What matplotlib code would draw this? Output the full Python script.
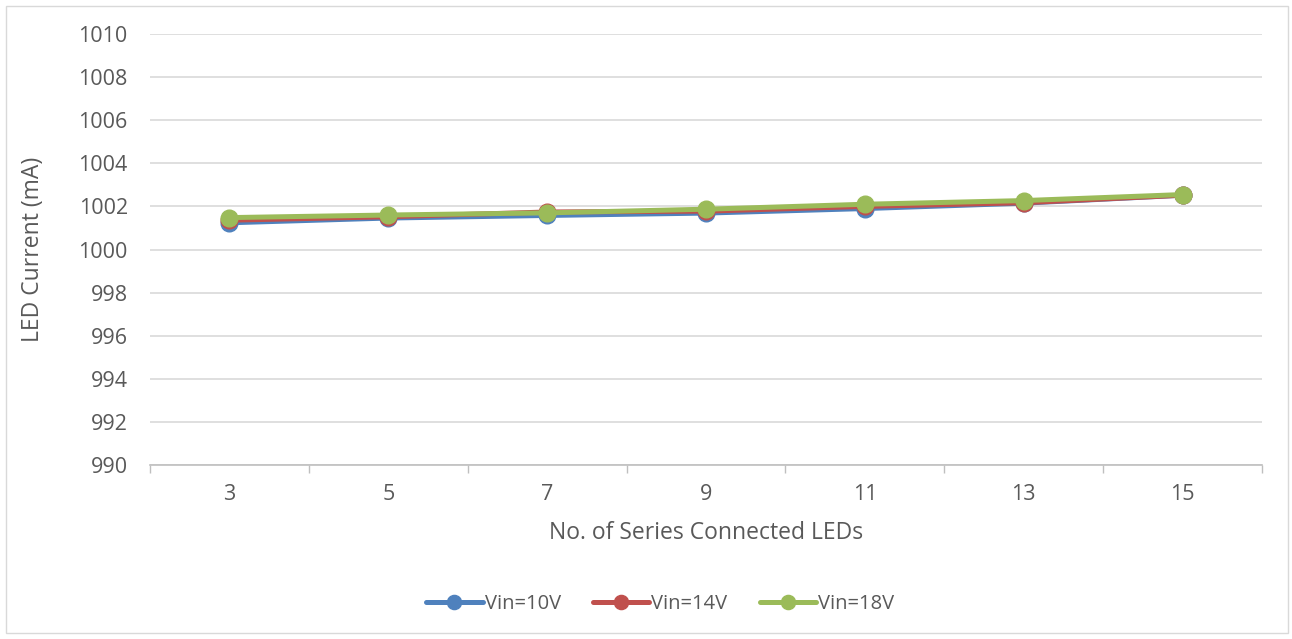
import matplotlib
matplotlib.use("Agg")
import matplotlib.pyplot as plt
from matplotlib.patches import Rectangle

# data
leds = ["3", "5", "7", "9", "11", "13", "15"]
vin10 = [1001.24, 1001.46, 1001.58, 1001.69, 1001.90, 1002.15, 1002.52]
vin14 = [1001.36, 1001.52, 1001.74, 1001.78, 1002.00, 1002.17, 1002.52]
vin18 = [1001.48, 1001.60, 1001.70, 1001.87, 1002.10, 1002.27, 1002.55]

plt.rcParams['font.family'] = ['Open Sans', 'DejaVu Sans']
txt = '#595959'

fig = plt.figure(figsize=(12.92, 6.39), dpi=100)
ax = fig.add_axes([150 / 1292, 1 - 465 / 639, 1112 / 1292, 431 / 639])

x = range(len(leds))
for vals, col, lab in [(vin10, '#4F81BD', 'Vin=10V'),
                       (vin14, '#C0504D', 'Vin=14V'),
                       (vin18, '#9BBB59', 'Vin=18V')]:
    ax.plot(x, vals, color=col, lw=3.6, marker='o', ms=12, label=lab,
            solid_capstyle='round')

ax.set_xlim(-0.5, len(leds) - 0.5)
ax.set_ylim(990, 1010)
ax.set_yticks(range(990, 1011, 2))
ax.set_xticks(list(x))
ax.set_xticklabels(leds)
ax.set_xticks([i - 0.5 for i in range(len(leds) + 1)], minor=True)
ax.tick_params(axis='x', which='major', length=0, pad=14, labelsize=15.5, labelcolor=txt)
ax.tick_params(axis='x', which='minor', length=6, color='#BFBFBF', width=1)
ax.tick_params(axis='y', length=0, pad=16, labelsize=15.5, labelcolor=txt)

ax.grid(axis='y', color='#D9D9D9', lw=1.2)
ax.set_axisbelow(True)
for s in ['top', 'right', 'left']:
    ax.spines[s].set_visible(False)
ax.spines['bottom'].set_color('#BFBFBF')
ax.spines['bottom'].set_linewidth(1.2)

ax.set_xlabel('No. of Series Connected LEDs', fontsize=16.5, color=txt, va='center')
ax.set_ylabel('LED Current (mA)', fontsize=16.5, color=txt, va='center')
ax.xaxis.set_label_coords(0.5, (465 - 533) / 431)
ax.yaxis.set_label_coords((33 - 150) / 1112, 0.5)

fig.legend(loc='center', bbox_to_anchor=(0.511, 1 - 604 / 639), ncol=3, frameon=False,
           fontsize=14.5, labelcolor=txt, handlelength=2.8, handletextpad=0.1,
           columnspacing=1.6, markerscale=0.85)

fig.patches.append(Rectangle((6 / 1292, 6 / 639), 1 - 10 / 1292, 1 - 12 / 639,
                             transform=fig.transFigure, fill=False,
                             edgecolor='#D9D9D9', lw=1))

fig.savefig('out.png', dpi=100)
